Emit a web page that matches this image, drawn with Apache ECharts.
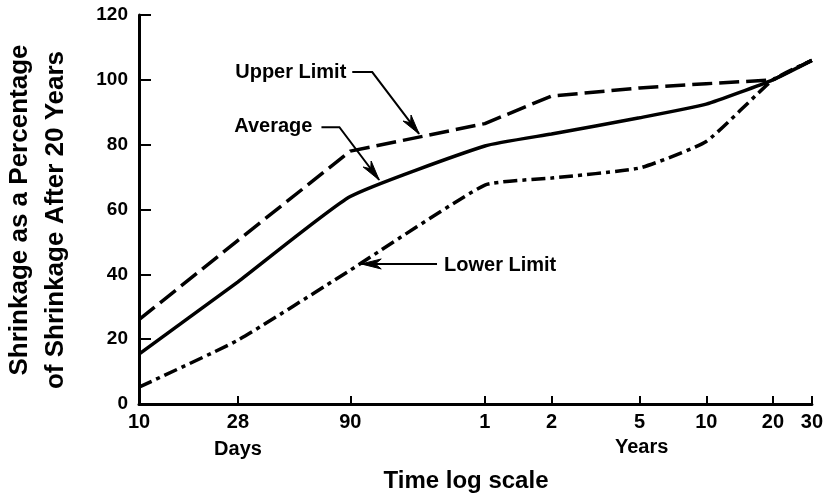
<!DOCTYPE html>
<html>
<head>
<meta charset="utf-8">
<script src="https://cdn.jsdelivr.net/npm/echarts@6/dist/echarts.min.js"></script>
<style>
html,body{margin:0;padding:0;background:#fff;}
#chart{width:826px;height:497px;}
</style>
</head>
<body>
<div id="chart"></div>
<script>
// Time points (days) at the labelled ticks of the log axis
const tickDays = [10, 28, 90, 365, 730, 1825, 3650, 7300, 10950];
const tickLabels = ['10', '28', '90', '1', '2', '5', '10', '20', '30'];
// Shrinkage as % of shrinkage after 20 years
const upperLimit = [26, 50.5, 78, 86.5, 95, 97.5, 98.8, 100, 106];
const average    = [15.4, 37.7, 64, 79.6, 83.3, 88.3, 92.5, 100, 106];
const lowerLimit = [5.2, 19.7, 41.3, 67.5, 69.7, 72.8, 81, 100, 106];
const yTicks = [0, 20, 40, 60, 80, 100, 120];

const FONT = '"Liberation Sans", Arial, Helvetica, sans-serif';
const lg = d => Math.log10(d);
const toPairs = vals => tickDays.map((d, i) => [lg(d), vals[i]]);

const chart = echarts.init(document.getElementById('chart'), null, {renderer: 'canvas'});

const lineBase = {type: 'line', symbol: 'none', silent: true, z: 3};

chart.setOption({
  animation: false,
  backgroundColor: '#fff',
  grid: {left: 139, right: 12, top: 15, bottom: 93, containLabel: false},
  xAxis: {
    type: 'value',
    min: lg(tickDays[0]),
    max: lg(tickDays[tickDays.length - 1]),
    splitLine: {show: false},
    axisLine: {show: true, onZero: false, lineStyle: {color: '#000', width: 3}},
    axisTick: {show: true, inside: true, length: 8, lineStyle: {color: '#000', width: 2},
               customValues: tickDays.map(lg)},
    axisLabel: {
      customValues: tickDays.map(lg),
      margin: 8,
      color: '#000', fontFamily: FONT, fontWeight: 'bold', fontSize: 20,
      formatter: v => {
        const i = tickDays.findIndex(d => Math.abs(lg(d) - v) < 1e-6);
        return i >= 0 ? tickLabels[i] : '';
      }
    }
  },
  yAxis: {
    type: 'value', min: 0, max: 120, interval: 20,
    splitLine: {show: false},
    axisLine: {show: true, lineStyle: {color: '#000', width: 3}},
    axisTick: {show: true, inside: true, length: 12, lineStyle: {color: '#000', width: 2}},
    axisLabel: {margin: 11, color: '#000', fontFamily: FONT, fontWeight: 'bold', fontSize: 19,
                formatter: v => yTicks.includes(v) ? String(v) : ''}
  },
  series: [
    Object.assign({}, lineBase, {name: 'Upper Limit', data: toPairs(upperLimit),
      lineStyle: {color: '#000', width: 3.5, type: [20, 7]}}),
    Object.assign({}, lineBase, {name: 'Average', data: toPairs(average), smooth: 0.15,
      lineStyle: {color: '#000', width: 3.5, type: 'solid'}}),
    Object.assign({}, lineBase, {name: 'Lower Limit', data: toPairs(lowerLimit), smooth: 0.15,
      lineStyle: {color: '#000', width: 3.5, type: [14, 5, 4, 5]}})
  ]
});

// Annotations (anchored in data space: [days, percent])
const annotations = [
  {text: 'Upper Limit', align: 'right', at: [86.4, 102.3],
   path: [[91.9, 102.4], [113.1, 102.4], [184.2, 83.3]]},
  {text: 'Average', align: 'right', at: [60.7, 85.6],
   path: [[66.7, 85.4], [80.4, 85.4], [121.6, 69.1]]},
  {text: 'Lower Limit', align: 'left', at: [238.7, 42.6],
   path: [[221.9, 43.2], [100.9, 43.2]]}
];

const px = p => chart.convertToPixel({gridIndex: 0}, [lg(p[0]), p[1]]);
const graphics = [];
annotations.forEach(a => {
  const t = px(a.at);
  graphics.push({type: 'text', x: t[0], y: t[1], silent: true,
    style: {text: a.text, fill: '#000', font: 'bold 20px ' + FONT,
            align: a.align, verticalAlign: 'middle', textAlign: a.align, textVerticalAlign: 'middle'}});
  const pts = a.path.map(px);
  graphics.push({type: 'polyline', silent: true, shape: {points: pts},
    style: {stroke: '#000', lineWidth: 2, fill: null}});
  const tip = pts[pts.length - 1], prev = pts[pts.length - 2];
  const dx = tip[0] - prev[0], dy = tip[1] - prev[1];
  const len = Math.sqrt(dx * dx + dy * dy);
  const ux = dx / len, uy = dy / len;
  const L = 20, W = 5;
  const bx = tip[0] - ux * L, by = tip[1] - uy * L;
  graphics.push({type: 'polygon', silent: true,
    shape: {points: [tip, [bx - uy * W, by + ux * W], [tip[0] - ux * L * 0.7, tip[1] - uy * L * 0.7], [bx + uy * W, by - ux * W]]},
    style: {fill: '#000', stroke: '#000', lineWidth: 1}});
});

// Day / Years group labels under the axis
const dPos = px([28, 0]);
const yPos = px([1825, 0]);
graphics.push({type: 'text', x: dPos[0], y: 449, silent: true,
  style: {text: 'Days', fill: '#000', font: 'bold 20px ' + FONT, align: 'center', verticalAlign: 'middle', textAlign: 'center', textVerticalAlign: 'middle'}});
graphics.push({type: 'text', x: yPos[0] + 2, y: 447, silent: true,
  style: {text: 'Years', fill: '#000', font: 'bold 20px ' + FONT, align: 'center', verticalAlign: 'middle', textAlign: 'center', textVerticalAlign: 'middle'}});
// X-axis title
graphics.push({type: 'text', x: 466, y: 481, silent: true,
  style: {text: 'Time log scale', fill: '#000', font: 'bold 24px ' + FONT, align: 'center', verticalAlign: 'middle', textAlign: 'center', textVerticalAlign: 'middle'}});
// Y-axis title (two lines, rotated)
graphics.push({type: 'text', x: 20, y: 210, rotation: Math.PI / 2, silent: true,
  style: {text: 'Shrinkage as a Percentage', fill: '#000', font: 'bold 26px ' + FONT, align: 'center', verticalAlign: 'middle', textAlign: 'center', textVerticalAlign: 'middle'}});
graphics.push({type: 'text', x: 56, y: 220, rotation: Math.PI / 2, silent: true,
  style: {text: 'of Shrinkage After 20 Years', fill: '#000', font: 'bold 26px ' + FONT, align: 'center', verticalAlign: 'middle', textAlign: 'center', textVerticalAlign: 'middle'}});

chart.setOption({graphic: graphics});
</script>
</body>
</html>
